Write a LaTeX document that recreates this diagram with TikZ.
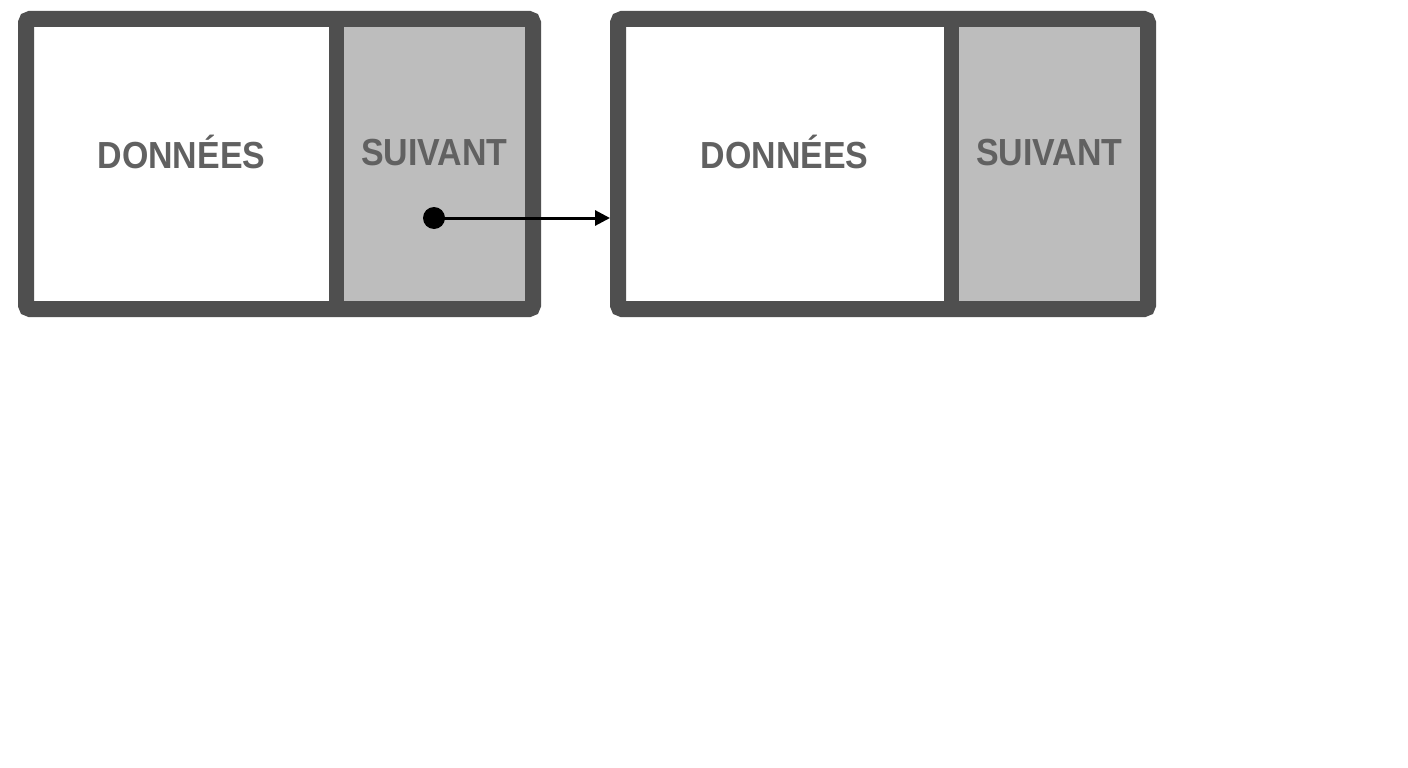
\documentclass[tikz,border=0pt]{standalone}
\usepackage{fontspec}
\newfontfamily\lbl[FakeStretch=0.9]{Liberation Sans}
\usetikzlibrary{arrows.meta}
\definecolor{bord}{HTML}{4F4F4F}
\definecolor{cellgray}{HTML}{BDBDBD}
\definecolor{txt}{HTML}{616161}
\tikzset{
  frame/.style={draw=bord, line width=16pt, rounded corners=4pt, inner sep=0pt, outer sep=0pt, minimum height=290pt},
  divider/.style={draw=bord, line width=15pt},
  label/.style={text=txt, font=\lbl\bfseries\fontsize{37.7pt}{40pt}\selectfont, anchor=base, inner sep=0pt},
  ptr/.style={draw=black, line width=3pt, -{Triangle[length=15pt,width=15pt]}},
  dot/.style={circle, fill=black, inner sep=0pt, minimum size=22pt}
}
\begin{document}
\begin{tikzpicture}[x=1pt,y=-1pt]
\useasboundingbox (0,0) rectangle (1408,768);
\fill[white] (0,0) rectangle (1408,768);
% box 1
\fill[cellgray] (344,27) rectangle (525,301);
\node[frame, minimum width=507pt] (b1) at (279.5,164) {};
\draw[divider] (336.5,19) -- (336.5,309);
\node[label] (d1) at (181.5,168.5) {DONNÉES};
\node[label] (s1) at (434.5,165) {SUIVANT};
% box 2
\fill[cellgray] (959,27) rectangle (1140,301);
\node[frame, minimum width=530pt] (b2) at (883,164) {};
\draw[divider] (951,19) -- (951,309);
\node[label] (d2) at (784.5,168.5) {DONNÉES};
\node[label] (s2) at (1049.5,165) {SUIVANT};
% pointer
\node[dot] (p) at (434,218) {};
\coordinate (t) at (618,218);
\draw[ptr, shorten >=8pt] (p.center) -- (t);
\end{tikzpicture}
\end{document}
